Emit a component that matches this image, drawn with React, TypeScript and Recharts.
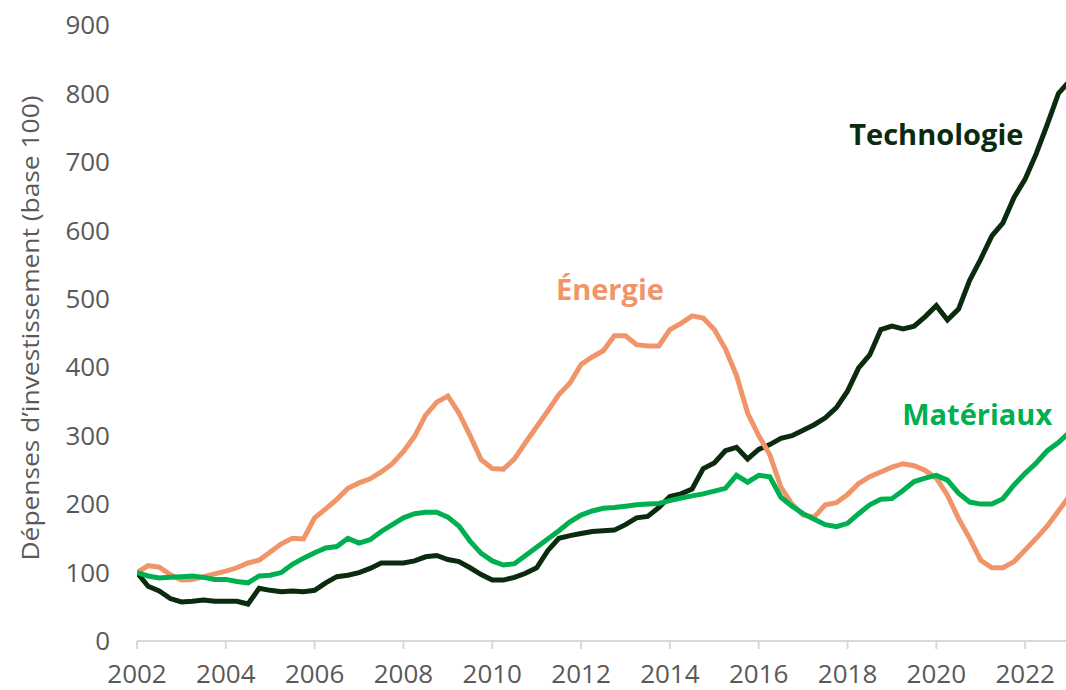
import React from 'react';
import { LineChart, Line, XAxis, YAxis, ReferenceDot, Label } from 'recharts';

// Quarterly values, 2002 Q1 onward (base 100)
const technologie = [
  100, 80, 73, 62, 57, 58, 60, 58, 58, 58, 54, 77, 74, 72, 73, 72, 74, 85, 94, 96,
  100, 106, 114, 114, 114, 117, 123, 125, 119, 116, 107, 97, 89, 89, 93, 99, 107, 132, 150, 154,
  157, 160, 161, 162, 170, 180, 182, 195, 211, 215, 222, 252, 260, 278, 283, 266, 280, 287, 296, 300,
  308, 316, 326, 341, 365, 399, 418, 455, 460, 456, 460, 474, 490, 469, 485, 527, 558, 592, 611, 648,
  675, 712, 755, 800, 818,
];
const energie = [
  100, 110, 108, 97, 89, 90, 94, 98, 102, 107, 114, 118, 130, 142, 150, 149, 180, 193, 207, 223,
  231, 237, 247, 259, 277, 299, 330, 349, 358, 333, 300, 265, 252, 251, 266, 290, 313, 336, 360, 377,
  404, 415, 424, 446, 446, 433, 431, 431, 455, 464, 475, 472, 455, 427, 388, 333, 300, 272, 225, 200,
  184, 181, 199, 202, 214, 230, 240, 247, 254, 259, 256, 249, 238, 213, 179, 150, 118, 107, 107, 116,
  133, 150, 168, 190, 212,
];
const materiaux = [
  100, 95, 92, 93, 94, 95, 93, 90, 90, 87, 85, 95, 96, 100, 112, 121, 129, 136, 138, 150,
  143, 148, 160, 170, 180, 186, 188, 188, 181, 168, 146, 128, 117, 111, 113, 125, 137, 149, 161, 174,
  184, 190, 194, 195, 197, 199, 200, 201, 205, 209, 212, 215, 219, 223, 242, 232, 242, 240, 210, 197,
  186, 178, 170, 167, 172, 186, 199, 207, 208, 220, 233, 238, 242, 235, 216, 203, 200, 200, 208, 228,
  245, 260, 278, 290, 305,
];

const START_YEAR = 2002;
const xTicks = [2002, 2004, 2006, 2008, 2010, 2012, 2014, 2016, 2018, 2020, 2022];
const yTicks = [0, 100, 200, 300, 400, 500, 600, 700, 800, 900];
const yLabel = "Dépenses d’investissement (base 100)";

const COLORS = {
  technologie: '#0b2b0e',
  energie: '#f0956a',
  materiaux: '#00b050',
};

const seriesLabels = [
  { name: 'Technologie', x: 2020.0, y: 739, color: COLORS.technologie },
  { name: 'Énergie', x: 2012.65, y: 513, color: COLORS.energie },
  { name: 'Matériaux', x: 2020.92, y: 330, color: COLORS.materiaux },
];

const data = technologie.map((v, i) => ({
  t: START_YEAR + i / 4,
  technologie: v,
  energie: energie[i],
  materiaux: materiaux[i],
}));

const FONT = "'Open Sans', 'Noto Sans', sans-serif";
const tickStyle = { fill: '#595959', fontSize: 26, fontFamily: FONT };

const YAxisTitle = () => (
  <text
    x={29}
    y={328}
    transform="rotate(-90 29 328)"
    textAnchor="middle"
    dominantBaseline="central"
    fill="#595959"
    fontSize={24}
    fontFamily={FONT}
    textLength={465}
    lengthAdjust="spacingAndGlyphs"
  >
    {yLabel}
  </text>
);

export default function App() {
  return (
    <div style={{ position: 'absolute', left: 0, top: 0, width: 1066, height: 690, background: '#fff' }}>
      <LineChart width={1066} height={690} data={data} margin={{ top: 25, right: 0, bottom: 0, left: 0 }}>
        <XAxis
          dataKey="t"
          type="number"
          domain={[2002, 2022.92]}
          ticks={xTicks}
          interval={0}
          allowDataOverflow
          height={49}
          axisLine={{ stroke: '#d9d9d9', strokeWidth: 2 }}
          tickLine={{ stroke: '#d9d9d9', strokeWidth: 2 }}
          tickSize={8}
          tickMargin={16}
          tick={tickStyle}
        />
        <YAxis
          domain={[0, 900]}
          ticks={yTicks}
          interval={0}
          width={137}
          axisLine={false}
          tickLine={false}
          tickSize={0}
          tickMargin={27}
          tick={tickStyle}
          label={{ content: () => <YAxisTitle /> }}
        />
        <Line type="linear" dataKey="technologie" stroke={COLORS.technologie} strokeWidth={5} dot={false} isAnimationActive={false} />
        <Line type="linear" dataKey="energie" stroke={COLORS.energie} strokeWidth={5} dot={false} isAnimationActive={false} />
        <Line type="linear" dataKey="materiaux" stroke={COLORS.materiaux} strokeWidth={5} dot={false} isAnimationActive={false} />
        {seriesLabels.map((s) => (
          <ReferenceDot key={s.name} x={s.x} y={s.y} r={0} fill="none" stroke="none">
            <Label value={s.name} position="center" fill={s.color} fontSize={29} fontWeight={700} fontFamily={FONT} />
          </ReferenceDot>
        ))}
      </LineChart>
    </div>
  );
}
